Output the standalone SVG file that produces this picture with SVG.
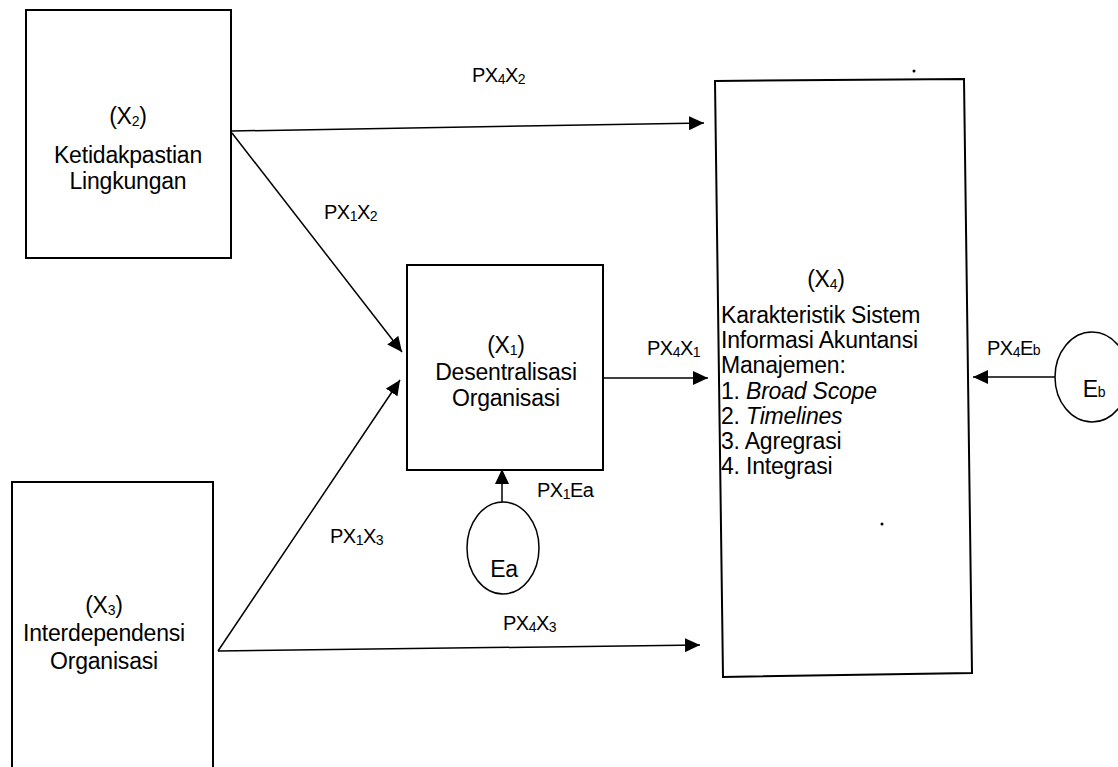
<svg xmlns="http://www.w3.org/2000/svg" width="1118" height="767" viewBox="0 0 1118 767">
<defs>
<style>
.box{fill:#fff;stroke:#000;stroke-width:2}
.ell{fill:#fff;stroke:#000;stroke-width:1.5}
.t{font-family:"Liberation Sans",Arial,sans-serif;font-size:23px;fill:#000;letter-spacing:-0.2px}
.c{text-anchor:middle}
.lb{font-family:"Liberation Sans",Arial,sans-serif;font-size:20px;fill:#000;letter-spacing:-0.5px}
.s{font-size:14px}
.edge{fill:none;stroke:#000;stroke-width:1.5;marker-end:url(#ah)}
</style>
<marker id="ah" markerUnits="userSpaceOnUse" markerWidth="16" markerHeight="14" refX="15" refY="7" orient="auto">
<path d="M0,0 L15,7 L0,14 z" fill="#000"/>
</marker>
</defs>
<rect width="1118" height="767" fill="#fff"/>
<g id="connectors">
<path class="edge" d="M232,131 L704,123"/>
<path class="edge" d="M232,133 L402,352"/>
<path class="edge" d="M218,651 L400,380"/>
<path class="edge" d="M218,651 L700,645"/>
<path class="edge" d="M603,378 L708,378"/>
<path class="edge" d="M502,503 L502,469"/>
<path class="edge" d="M1055,377 L973,377"/>
</g>
<g id="labels">
<text class="lb" x="472" y="82">PX<tspan class="s" dy="2">4</tspan><tspan dy="-2">X</tspan><tspan class="s" dy="2">2</tspan></text>
<text class="lb" x="324" y="219">PX<tspan class="s" dy="2">1</tspan><tspan dy="-2">X</tspan><tspan class="s" dy="2">2</tspan></text>
<text class="lb" x="330" y="543">PX<tspan class="s" dy="2">1</tspan><tspan dy="-2">X</tspan><tspan class="s" dy="2">3</tspan></text>
<text class="lb" x="503" y="630">PX<tspan class="s" dy="2">4</tspan><tspan dy="-2">X</tspan><tspan class="s" dy="2">3</tspan></text>
<text class="lb" x="647" y="355">PX<tspan class="s" dy="2">4</tspan><tspan dy="-2">X</tspan><tspan class="s" dy="2">1</tspan></text>
<text class="lb" x="537" y="497">PX<tspan class="s" dy="2">1</tspan><tspan dy="-2">Ea</tspan></text>
<text class="lb" x="987" y="355">PX<tspan class="s" dy="2">4</tspan><tspan dy="-2">E</tspan><tspan class="s">b</tspan></text>
</g>
<g id="X2">
<rect class="box" x="26" y="10" width="205" height="248"/>
<text class="t c" x="128" y="124">(X<tspan class="s" dy="2">2</tspan><tspan dy="-2">)</tspan></text>
<text class="t c" x="128" y="163">Ketidakpastian</text>
<text class="t c" x="128" y="189">Lingkungan</text>
</g>
<g id="X3">
<rect class="box" x="12" y="482" width="201" height="300"/>
<text class="t c" x="104" y="613">(X<tspan class="s" dy="2">3</tspan><tspan dy="-2">)</tspan></text>
<text class="t c" x="104" y="641">Interdependensi</text>
<text class="t c" x="104" y="669">Organisasi</text>
</g>
<g id="X1">
<rect class="box" x="407" y="265" width="196" height="205"/>
<text class="t c" x="506" y="353">(X<tspan class="s" dy="2">1</tspan><tspan dy="-2">)</tspan></text>
<text class="t c" x="506" y="380">Desentralisasi</text>
<text class="t c" x="506" y="406">Organisasi</text>
</g>
<g id="X4">
<path class="box" d="M715,81 L964,79 L972,673 L723,677 Z"/>
<text class="t c" x="826" y="287">(X<tspan class="s" dy="2">4</tspan><tspan dy="-2">)</tspan></text>
<text class="t" x="721" y="323">Karakteristik Sistem</text>
<text class="t" x="721" y="348">Informasi Akuntansi</text>
<text class="t" x="721" y="373">Manajemen:</text>
<text class="t" x="721" y="399">1. <tspan font-style="italic">Broad Scope</tspan></text>
<text class="t" x="721" y="424">2. <tspan font-style="italic">Timelines</tspan></text>
<text class="t" x="721" y="449">3. Agregrasi</text>
<text class="t" x="721" y="474">4. Integrasi</text>
</g>
<g id="Ea">
<ellipse class="ell" cx="503" cy="548" rx="36" ry="46"/>
<text class="t c" x="504" y="577">Ea</text>
</g>
<g id="Eb">
<ellipse class="ell" cx="1092" cy="377" rx="37" ry="45"/>
<text class="t c" x="1094" y="397">E<tspan class="s">b</tspan></text>
</g>
<g id="specks" fill="#000">
<circle cx="914" cy="71" r="1.5"/>
<circle cx="882" cy="524" r="1.5"/>
</g>
</svg>
